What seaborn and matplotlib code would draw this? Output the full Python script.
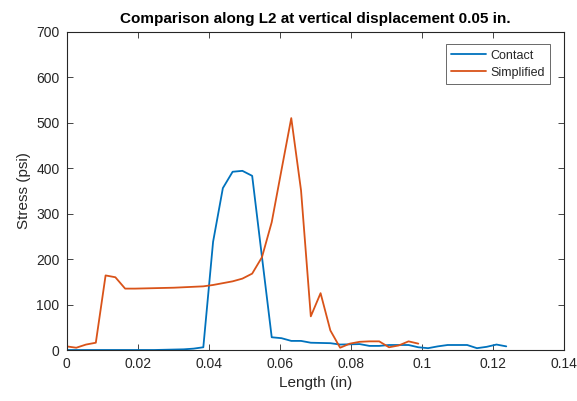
import numpy as np
import pandas as pd
import matplotlib
matplotlib.use("Agg")
import matplotlib.pyplot as plt
import seaborn as sns

step = 0.00275
contact_stress = [0, 0, 0, 0, 0, 0, 0, 0, 0, 0, 0.5, 1, 1.5, 3, 6,
                  238, 356, 392, 394, 383, 205, 28, 26, 20, 20, 16, 15.5, 15,
                  12, 12.5, 13, 9, 9, 11, 11, 11, 6, 4, 8, 11, 11, 11, 4, 7, 12, 8]
simplified_stress = [8, 5, 12, 16, 164, 160, 135, 135, 135.5, 136, 136.5, 137, 138,
                     139, 140, 143, 147, 151, 157, 168, 204, 281, 396, 510, 351,
                     74, 125, 43, 5, 14, 18, 19, 19, 6, 10, 19, 14]
contact_len = [i * step for i in range(len(contact_stress))]
simplified_len = [i * step for i in range(len(simplified_stress))]

df = pd.concat([
    pd.DataFrame({"Length": contact_len, "Stress": contact_stress, "Series": "Contact"}),
    pd.DataFrame({"Length": simplified_len, "Stress": simplified_stress, "Series": "Simplified"}),
])

sns.set_theme(style="white")
plt.rcParams['font.family'] = ['Liberation Sans', 'DejaVu Sans']

fig = plt.figure(figsize=(5.77, 4.01), dpi=100)
ax = fig.add_axes([66.5/577, 1 - 350/401, (564 - 66.5)/577, (350 - 31.7)/401])
sns.lineplot(data=df, x="Length", y="Stress", hue="Series",
             palette={"Contact": "#0072BD", "Simplified": "#D95319"},
             linewidth=1.3, ax=ax, estimator=None, sort=False)

ax.set_xlim(0, 0.14)
ax.set_ylim(0, 700)
ax.set_xticks(np.arange(0, 0.141, 0.02))
ax.set_xticklabels(["0", "0.02", "0.04", "0.06", "0.08", "0.1", "0.12", "0.14"])
ax.set_yticks(range(0, 701, 100))
ax.tick_params(direction="in", length=4, width=0.6, colors="#262626",
               labelsize=10, top=True, right=True, bottom=True, left=True,
               labelcolor="#262626", pad=5)
for s in ax.spines.values():
    s.set_color("#262626")
    s.set_linewidth(0.8)
ax.set_xlabel("Length (in)", fontsize=11, color="#262626")
ax.set_ylabel("Stress (psi)", fontsize=11, color="#262626")
ax.set_title("Comparison along L2 at vertical displacement 0.05 in.",
             fontsize=11, fontweight="bold", color="black", pad=6)

leg = ax.legend(loc="upper right", bbox_to_anchor=(0.972, 0.961), fontsize=9,
                frameon=True, fancybox=False, edgecolor="#262626",
                handlelength=2.8, handletextpad=0.3, borderpad=0.45,
                labelspacing=0.4, borderaxespad=0)
leg.get_frame().set_linewidth(0.6)

fig.savefig("out.png", dpi=100)
